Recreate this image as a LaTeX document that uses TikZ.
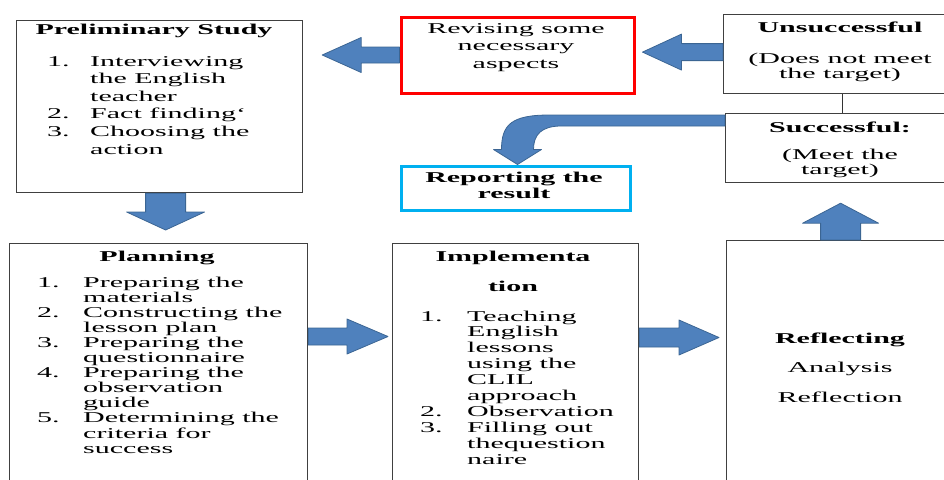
\documentclass[tikz,border=0pt]{standalone}
\usepackage{fontspec}
\setmainfont[FakeStretch=2]{Liberation Serif}
\usetikzlibrary{calc}

\definecolor{arrowblue}{HTML}{4F81BD}
\definecolor{arrowedge}{HTML}{3B6593}
\definecolor{reviseRed}{HTML}{FF0000}
\definecolor{reportCyan}{HTML}{00B0F0}

\newcommand{\boxfont}[1]{\fontsize{15}{#1}\selectfont}
% block arrow: start, tip, shaft half width, head half width, head length
\newcommand{\blockarrow}[5]{%
  \coordinate (ab) at ($(#2)!#5!(#1)$);
  \filldraw[arrowbody] ($(#1)!#3!90:(#2)$) -- ($(ab)!#3!90:(#2)$)
    -- ($(ab)!#4!90:(#2)$) -- (#2) -- ($(ab)!#4!-90:(#2)$)
    -- ($(ab)!#3!-90:(#2)$) -- ($(#1)!#3!-90:(#2)$) -- cycle;}

\begin{document}
\begin{tikzpicture}[x=1pt, y=-1pt,
    box/.style={draw=black!75, line width=1.2pt, inner sep=0pt, anchor=north west},
    redbox/.style={box, draw=reviseRed, line width=3pt},
    cyanbox/.style={box, draw=reportCyan, line width=3pt},
    head/.style={font=\boxfont{17.5}\bfseries, anchor=base, inner sep=0pt},
    words/.style={anchor=base, inner sep=0pt},
    steps/.style={anchor=base west, inner sep=0pt},
    arrowbody/.style={fill=arrowblue, draw=arrowedge, line width=0.8pt, line join=round}]
  \useasboundingbox (0,0) rectangle (944,479);

  % Boxes of the cycle
  \node[box, minimum width=286pt, minimum height=172pt] (prelim) at (16,20) {};
  \node[redbox, minimum width=233pt, minimum height=76pt] (revise) at (399.5,15.5) {};
  \node[box, minimum width=234pt, minimum height=79pt] (unsucc) at (723,14) {};
  \node[box, minimum width=230pt, minimum height=69pt] (succ) at (725,113) {};
  \node[cyanbox, minimum width=229pt, minimum height=44pt] (report) at (399.5,164.5) {};
  \node[box, minimum width=298pt, minimum height=260pt] (plan) at (9,243) {};
  \node[box, minimum width=246pt, minimum height=260pt] (impl) at (392,243) {};
  \node[box, minimum width=228pt, minimum height=260pt] (reflect) at (726,240) {};

  \draw[black!80, line width=1.2pt] ($(unsucc.south)+(2,0)$) -- ($(unsucc.south |- succ.north)+(2,0)$);

  % Block arrows between the boxes
  \coordinate (a1s) at (revise.west);
  \coordinate (a1e) at ($(prelim.east |- revise.west)+(19,0)$);
  \blockarrow{a1s}{a1e}{8pt}{17.5pt}{39pt}

  \coordinate (a2s) at ($(unsucc.west)+(0,-2)$);
  \coordinate (a2e) at ($(revise.east |- a2s)+(7,0)$);
  \blockarrow{a2s}{a2e}{8.5pt}{18pt}{39pt}

  \coordinate (a3s) at ($(prelim.south)+(6,0)$);
  \coordinate (a3e) at ($(a3s |- plan.north)+(0,-13)$);
  \blockarrow{a3s}{a3e}{20pt}{39pt}{18pt}

  \coordinate (a4s) at ($(plan.north east)+(0,93.5)$);
  \coordinate (a4e) at ($(impl.west |- a4s)+(-4,0)$);
  \blockarrow{a4s}{a4e}{8.5pt}{17.5pt}{41pt}

  \coordinate (a5s) at ($(impl.east |- a4s)+(0,1)$);
  \coordinate (a5e) at ($(reflect.west |- a5s)+(-7,0)$);
  \blockarrow{a5s}{a5e}{9.5pt}{17.5pt}{40pt}

  \coordinate (a6s) at (reflect.north);
  \coordinate (a6e) at ($(succ.south -| a6s)+(0,20)$);
  \blockarrow{a6s}{a6e}{20pt}{38pt}{20pt}

  % Bent arrow from the successful box down to the report
  \coordinate (bend) at ($(succ.north west)+(0,7.5)$);
  \coordinate (drop) at ($(report.north)+(2,0)$);
  \filldraw[arrowbody] ($(bend)+(0,-5.5)$) -- ($(drop |- bend)+(32,-5.5)$)
      .. controls ($(drop |- bend)+(-6,-5.5)$) and ($(drop |- bend)+(-16,4)$) .. ($(drop)+(-16,-15)$)
      -- ($(drop)+(-24,-15)$) -- (drop) -- ($(drop)+(24,-15)$) -- ($(drop)+(16,-15)$)
      .. controls ($(drop |- bend)+(16,14)$) and ($(drop |- bend)+(24,5.5)$) .. ($(drop |- bend)+(44,5.5)$)
      -- ($(bend)+(0,5.5)$) -- cycle;

  % Texts
  \node[head] (prelimtitle) at (154,34) {Preliminary Study};
  \node[steps, font=\boxfont{17.6}] (prelimsteps) at (47,66)
    {\begin{tabular}[t]{@{}p{43pt}@{}l@{}}
      1. & Interviewing\\ & the English\\ & teacher\\
      2. & Fact finding‘\\
      3. & Choosing the\\ & action
    \end{tabular}};

  \node[words, font=\boxfont{17.5}] (revisetext) at (516,33)
    {\begin{tabular}[t]{@{}c@{}}Revising some\\necessary\\aspects\end{tabular}};

  \node[head] (unsucctitle) at (840,32) {Unsuccessful};
  \node[words, font=\boxfont{15.5}] (unsucctext) at (840,63)
    {\begin{tabular}[t]{@{}c@{}}(Does not meet\\the target)\end{tabular}};

  \node[head] (succtitle) at (840,132) {Successful:};
  \node[words, font=\boxfont{15}] (succtext) at (840,159)
    {\begin{tabular}[t]{@{}c@{}}(Meet the\\target)\end{tabular}};

  \node[head, font=\boxfont{16}\bfseries] (reporttext) at (514,182)
    {\begin{tabular}[t]{@{}c@{}}Reporting the\\result\end{tabular}};

  \node[head] (plantitle) at (157,261) {Planning};
  \node[steps, font=\boxfont{15.1}] (plansteps) at (37,287)
    {\begin{tabular}[t]{@{}p{46pt}@{}l@{}}
      1. & Preparing the\\ & materials\\
      2. & Constructing the\\ & lesson plan\\
      3. & Preparing the\\ & questionnaire\\
      4. & Preparing the\\ & observation\\ & guide\\
      5. & Determining the\\ & criteria for\\ & success
    \end{tabular}};

  \node[head, font=\boxfont{30}\bfseries] (impltitle) at (513,261)
    {\begin{tabular}[t]{@{}c@{}}Implementa\\tion\end{tabular}};
  \node[steps, font=\boxfont{15.9}] (implsteps) at (420,321)
    {\begin{tabular}[t]{@{}p{47pt}@{}l@{}}
      1. & Teaching\\ & English\\ & lessons\\ & using the\\ & CLIL\\ & approach\\
      2. & Observation\\
      3. & Filling out\\ & thequestion\\ & naire
    \end{tabular}};

  \node[words, font=\boxfont{29.5}] (reflecttext) at (840,343)
    {\begin{tabular}[t]{@{}c@{}}\textbf{Reflecting}\\Analysis\\Reflection\end{tabular}};
\end{tikzpicture}
\end{document}
